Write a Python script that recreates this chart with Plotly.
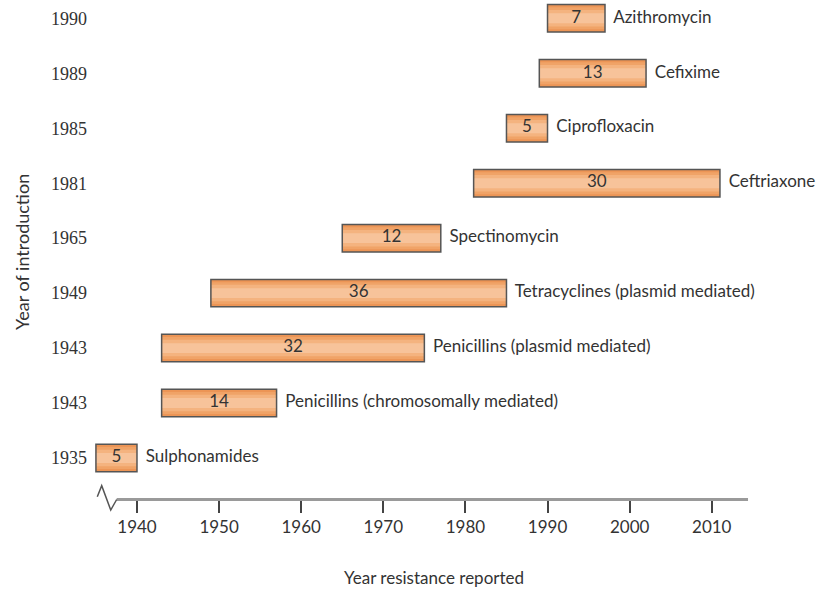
import plotly.graph_objects as go

# antibiotic, year introduced, years until resistance reported
drugs = ['Sulphonamides', 'Penicillins (chromosomally mediated)', 'Penicillins (plasmid mediated)',
         'Tetracyclines (plasmid mediated)', 'Spectinomycin', 'Ceftriaxone', 'Ciprofloxacin',
         'Cefixime', 'Azithromycin']
year_intro = [1935, 1943, 1943, 1949, 1965, 1981, 1985, 1989, 1990]
years_to_resist = [5, 14, 32, 36, 12, 30, 5, 13, 7]
x_ticks = [1940, 1950, 1960, 1970, 1980, 1990, 2000, 2010]

rows = list(range(len(drugs)))
ends = [a + b for a, b in zip(year_intro, years_to_resist)]
mids = [a + b / 2 for a, b in zip(year_intro, years_to_resist)]

txt_font = dict(family='Lato', size=17, color='#333333')
bar_h = 0.5

fig = go.Figure()

# fake the vertical gradient of the bars with a few stacked layers
layers = [(bar_h, '#ec9556'), (0.40, '#f0a367'), (0.30, '#f4b37f'), (0.18, '#f7c39a')]
for w, col in layers:
    fig.add_trace(go.Bar(
        y=rows, x=years_to_resist, base=year_intro, orientation='h', width=w,
        marker=dict(color=col, line=dict(width=0)),
        hoverinfo='skip', showlegend=False))
# border on top
fig.add_trace(go.Bar(
    y=rows, x=years_to_resist, base=year_intro, orientation='h', width=bar_h,
    marker=dict(color='rgba(0,0,0,0)', line=dict(color='#555555', width=1.5)),
    hoverinfo='skip', showlegend=False))

fig.add_trace(go.Scatter(x=mids, y=rows, mode='text', text=[str(v) for v in years_to_resist],
                         textfont=txt_font, cliponaxis=False, hoverinfo='skip', showlegend=False))
fig.add_trace(go.Scatter(x=ends, y=rows, mode='text', text=['  ' + d for d in drugs],
                         textposition='middle right', textfont=txt_font, cliponaxis=False,
                         hoverinfo='skip', showlegend=False))

# axis line with the break mark on the left
fig.add_shape(type='line', xref='paper', yref='paper', x0=0.0369, x1=0.9806, y0=0.001, y1=0.001,
              line=dict(color='#9a9a9a', width=3))
fig.add_shape(type='path', xref='paper', yref='paper',
              path='M 0.0079 0.0066 L 0.0145 0.0286 L 0.0280 -0.020 L 0.0369 0.001',
              line=dict(color='#555555', width=1.5))

fig.add_annotation(text='Year resistance reported', xref='paper', yref='paper', x=0.511, y=-0.154,
                   xanchor='center', yanchor='middle', showarrow=False,
                   font=dict(family='Lato', size=17, color='#333333'))
fig.add_annotation(text='Year of introduction', xref='paper', yref='paper', x=-0.1046, y=0.496,
                   xanchor='center', yanchor='middle', textangle=-90, showarrow=False,
                   font=dict(family='Lato', size=18, color='#333333'))

fig.update_layout(
    width=824, height=592, margin=dict(l=92, r=63, t=0, b=92),
    plot_bgcolor='white', paper_bgcolor='white', barmode='overlay',
    xaxis=dict(range=[1934.52, 2016], tickvals=x_ticks, ticks='outside', ticklen=12, tickwidth=1.5,
               tickcolor='#444444', showgrid=False, zeroline=False, showline=False,
               tickfont=dict(family='Lato', size=17, color='#333333')),
    yaxis=dict(range=[-0.764, 8.333], tickvals=rows, ticktext=[str(y) for y in year_intro],
               showgrid=False, zeroline=False, showline=False, ticks='', ticklabelstandoff=4,
               tickfont=dict(family='Liberation Serif', size=18, color='#333333')),
)

# drop the default page margin so the figure sits at the window corner
fig.write_html('out.html', config={'displayModeBar': False},
               post_script="document.body.style.margin='0';")
